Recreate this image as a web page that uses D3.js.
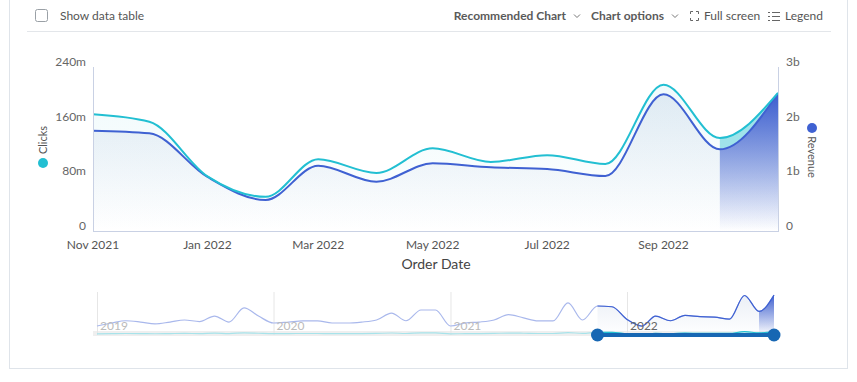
<!DOCTYPE html>
<html><head><meta charset="utf-8">
<script src="https://cdn.jsdelivr.net/npm/d3@7"></script>
<style>
body{margin:0;background:#fff;font-family:Lato,"Open Sans",sans-serif;}
svg{display:block}
</style></head><body>
<svg id="c" width="857" height="382"></svg>
<script>
// ---- data ----
const months = ["2021-11","2021-12","2022-01","2022-02","2022-03","2022-04","2022-05","2022-06","2022-07","2022-08","2022-09","2022-10","2022-11"];
const clicks = [171, 160, 80, 50, 105, 85, 121, 101, 111, 98, 214, 136, 202];            // millions
const revenue = [1.835, 1.787, 0.988, 0.567, 1.194, 0.902, 1.238, 1.165, 1.134, 1.006, 2.5, 1.494, 2.519]; // billions
const historyStart = "2019-01";
const historyRevenue = [0.57,0.76,0.9,0.82,0.70,0.82,0.95,0.85,1.2,0.82,1.71,1.2,
                        0.76,0.82,0.89,0.89,0.76,0.76,0.82,0.95,1.39,0.9,1.58,1.58,
                        0.57,0.76,0.82,0.95,1.29,1.08,0.89,0.89,2.03,0.95];
const historyClicks = [70,85,95,90,80,90,100,92,115,90,140,110,
                       85,90,95,95,85,85,90,100,125,95,130,130,
                       70,85,90,100,120,110,95,95,150,100];
const leftTicks = [0, 80, 160, 240];
const leftTickLabels = ["0", "80m", "160m", "240m"];
const rightTicks = [0, 1, 2, 3];
const rightTickLabels = ["0", "1b", "2b", "3b"];
const xTickMonths = ["2021-11","2022-01","2022-03","2022-05","2022-07","2022-09"];
const yearLabels = ["2019","2020","2021","2022"];

const parse = d3.timeParse("%Y-%m");
const dates = months.map(parse);
const svg = d3.select("#c");
const CYAN = "#22bfd2", BLUE = "#3f61d2";
const defs = svg.append("defs");

// ---- panel & header ----
svg.append("rect").attr("x", 9.5).attr("y", -2).attr("width", 838).attr("height", 370.5)
  .attr("fill", "none").attr("stroke", "#dfe4ea");
svg.append("line").attr("x1", 27).attr("x2", 831).attr("y1", 31.5).attr("y2", 31.5).attr("stroke", "#e3e6ea");
svg.append("rect").attr("x", 35.5).attr("y", 9.5).attr("width", 12).attr("height", 12).attr("rx", 2)
  .attr("fill", "#fff").attr("stroke", "#9aa0a6");
const hdr = svg.append("g").attr("font-size", 12).attr("fill", "#555");
hdr.append("text").attr("x", 60).attr("y", 20).text("Show data table");
hdr.append("text").attr("x", 566).attr("y", 20).attr("text-anchor", "end").attr("font-weight", 700).attr("fill", "#5a5a5a").text("Recommended Chart");
hdr.append("text").attr("x", 591).attr("y", 20).attr("font-weight", 700).attr("fill", "#5a5a5a").text("Chart options");
hdr.append("text").attr("x", 704).attr("y", 20).text("Full screen");
hdr.append("text").attr("x", 785).attr("y", 20).text("Legend");
function chevron(x, y) {
  svg.append("path").attr("d", `M${x-3},${y-1.5}L${x},${y+1.5}L${x+3},${y-1.5}`)
    .attr("fill", "none").attr("stroke", "#777").attr("stroke-width", 1);
}
chevron(577, 16); chevron(675, 16);
svg.append("path").attr("d", "M690.5,14V11.5H693 M696,11.5H698.5V14 M698.5,18V20.5H696 M693,20.5H690.5V18")
  .attr("fill", "none").attr("stroke", "#666").attr("stroke-width", 1);
const lg = svg.append("g").attr("stroke", "#666").attr("stroke-width", 1);
[12, 16, 20].forEach(y => {
  lg.append("line").attr("x1", 768).attr("x2", 770).attr("y1", y + 0.5).attr("y2", y + 0.5);
  lg.append("line").attr("x1", 772).attr("x2", 780).attr("y1", y + 0.5).attr("y2", y + 0.5);
});

// ---- main chart ----
const L = 93, R = 778, T = 67, B = 231;
const x = d3.scaleTime().domain([dates[0], dates[dates.length - 1]]).range([L, R]);
const yL = d3.scaleLinear().domain([0, 240]).range([B, T]);
const yR = d3.scaleLinear().domain([0, 3]).range([B, T]);

const gBlue = defs.append("linearGradient").attr("id", "gBlue").attr("gradientUnits", "userSpaceOnUse")
  .attr("x1", 0).attr("x2", 0).attr("y1", T + 20).attr("y2", B);
gBlue.append("stop").attr("offset", 0).attr("stop-color", "#7d97c4").attr("stop-opacity", 0.17);
gBlue.append("stop").attr("offset", 1).attr("stop-color", "#7d97c4").attr("stop-opacity", 0.0);
const gCyan = defs.append("linearGradient").attr("id", "gCyan").attr("gradientUnits", "userSpaceOnUse")
  .attr("x1", 0).attr("x2", 0).attr("y1", T + 20).attr("y2", B);
gCyan.append("stop").attr("offset", 0).attr("stop-color", "#6fd3e2").attr("stop-opacity", 0.1);
gCyan.append("stop").attr("offset", 1).attr("stop-color", "#6fd3e2").attr("stop-opacity", 0.0);
const gDark = defs.append("linearGradient").attr("id", "gDark").attr("gradientUnits", "userSpaceOnUse")
  .attr("x1", 0).attr("x2", 0).attr("y1", T + 25).attr("y2", B);
gDark.append("stop").attr("offset", 0).attr("stop-color", "#3a5ccf").attr("stop-opacity", 1);
gDark.append("stop").attr("offset", 1).attr("stop-color", "#3a5ccf").attr("stop-opacity", 0.0);

const curve = d3.curveMonotoneX;
const idx = d3.range(months.length);
svg.append("path").datum(idx).attr("fill", "url(#gCyan)")
  .attr("d", d3.area().curve(curve).x(i => x(dates[i])).y0(B).y1(i => yL(clicks[i])));
svg.append("path").datum(idx).attr("fill", "url(#gBlue)")
  .attr("d", d3.area().curve(curve).x(i => x(dates[i])).y0(B).y1(i => yR(revenue[i])));

// last (incomplete) period highlight
const lastStart = x(dates[dates.length - 2]);
defs.append("clipPath").attr("id", "clipLast").append("rect")
  .attr("x", lastStart).attr("y", 0).attr("width", R - lastStart).attr("height", B);
const lastG = svg.append("g").attr("clip-path", "url(#clipLast)");
lastG.append("path").datum(idx).attr("fill", "url(#gDark)")
  .attr("d", d3.area().curve(curve).x(i => x(dates[i])).y0(B).y1(i => yR(revenue[i])));
lastG.append("path").datum(idx).attr("fill", "#9fe3ea")
  .attr("d", d3.area().curve(curve).x(i => x(dates[i])).y0(i => yR(revenue[i])).y1(i => yL(clicks[i])));

svg.append("path").datum(idx).attr("fill", "none").attr("stroke", BLUE).attr("stroke-width", 2)
  .attr("d", d3.line().curve(curve).x(i => x(dates[i])).y(i => yR(revenue[i])));
svg.append("path").datum(idx).attr("fill", "none").attr("stroke", CYAN).attr("stroke-width", 2)
  .attr("d", d3.line().curve(curve).x(i => x(dates[i])).y(i => yL(clicks[i])));

// axes lines
const axC = "#c9d1e4";
svg.append("line").attr("x1", L + 0.5).attr("x2", L + 0.5).attr("y1", T).attr("y2", B).attr("stroke", axC);
svg.append("line").attr("x1", R + 0.5).attr("x2", R + 0.5).attr("y1", T).attr("y2", B).attr("stroke", axC);
svg.append("line").attr("x1", L).attr("x2", R + 1).attr("y1", B + 0.5).attr("y2", B + 0.5).attr("stroke", axC);

const tl = svg.append("g").attr("font-size", 12).attr("fill", "#666");
leftTicks.forEach((v, i) => tl.append("text").attr("x", 86).attr("y", yL(v) - 1)
  .attr("text-anchor", "end").text(leftTickLabels[i]));
rightTicks.forEach((v, i) => tl.append("text").attr("x", 786).attr("y", yR(v) - 1)
  .text(rightTickLabels[i]));
const fmt = d3.timeFormat("%b %Y");
xTickMonths.map(parse).forEach(d => tl.append("text").attr("x", x(d)).attr("y", 249)
  .attr("text-anchor", "middle").attr("fill", "#555").text(fmt(d)));
svg.append("text").attr("x", 436).attr("y", 269).attr("text-anchor", "middle")
  .attr("font-size", 14).attr("fill", "#444").text("Order Date");

// legends on sides
svg.append("circle").attr("cx", 43).attr("cy", 163).attr("r", 5).attr("fill", CYAN);
svg.append("text").attr("transform", "translate(47,140) rotate(-90)").attr("text-anchor", "middle")
  .attr("font-size", 11).attr("fill", "#555").text("Clicks");
svg.append("circle").attr("cx", 812).attr("cy", 128).attr("r", 5).attr("fill", BLUE);
svg.append("text").attr("transform", "translate(808,157) rotate(90)").attr("text-anchor", "middle")
  .attr("font-size", 11).attr("fill", "#555").text("Revenue");

// ---- navigator ----
const hStart = parse(historyStart);
const navDates = historyRevenue.map((_, i) => d3.timeMonth.offset(hStart, i)).concat(dates);
const navRev = historyRevenue.concat(revenue);
const navClk = historyClicks.concat(clicks).map(v => v / 1000);
const nx = d3.scaleTime().domain([hStart, dates[dates.length - 1]]).range([97, 774]);
const ny = d3.scaleLinear().domain([0, 2.6]).range([335, 293.9]);
const nIdx = d3.range(navDates.length);

svg.append("rect").attr("x", 93).attr("y", 331).attr("width", 685).attr("height", 5).attr("fill", "#efefef");
yearLabels.forEach(yr => {
  const px = nx(parse(yr + "-01"));
  svg.append("line").attr("x1", px + 0.5).attr("x2", px + 0.5).attr("y1", 292).attr("y2", 335).attr("stroke", "#e6e6e6");
});
const nLineR = d3.line().curve(curve).x(i => nx(navDates[i])).y(i => ny(navRev[i]));
const nLineC = d3.line().curve(curve).x(i => nx(navDates[i])).y(i => ny(navClk[i]));
svg.append("path").datum(nIdx).attr("fill", "none").attr("stroke", "#a9b8ec").attr("stroke-width", 1.2).attr("d", nLineR);
svg.append("path").datum(nIdx).attr("fill", "none").attr("stroke", "#a7e3ea").attr("stroke-width", 1.2).attr("d", nLineC);

const selX0 = nx(dates[0]);
defs.append("clipPath").attr("id", "clipSel").append("rect")
  .attr("x", selX0).attr("y", 280).attr("width", 774 - selX0 + 2).attr("height", 60);
const gNav = defs.append("linearGradient").attr("id", "gNav").attr("gradientUnits", "userSpaceOnUse")
  .attr("x1", 0).attr("x2", 0).attr("y1", 296).attr("y2", 335);
gNav.append("stop").attr("offset", 0).attr("stop-color", "#7d97c4").attr("stop-opacity", 0.15);
gNav.append("stop").attr("offset", 1).attr("stop-color", "#7d97c4").attr("stop-opacity", 0);
const gNavD = defs.append("linearGradient").attr("id", "gNavD").attr("gradientUnits", "userSpaceOnUse")
  .attr("x1", 0).attr("x2", 0).attr("y1", 297).attr("y2", 335);
gNavD.append("stop").attr("offset", 0).attr("stop-color", "#3a5ccf").attr("stop-opacity", 0.9);
gNavD.append("stop").attr("offset", 1).attr("stop-color", "#3a5ccf").attr("stop-opacity", 0);
const sel = svg.append("g").attr("clip-path", "url(#clipSel)");
sel.append("path").datum(nIdx).attr("fill", "url(#gNav)")
  .attr("d", d3.area().curve(curve).x(i => nx(navDates[i])).y0(335).y1(i => ny(navRev[i])));
const nLast = nx(dates[dates.length - 2]);
defs.append("clipPath").attr("id", "clipNavLast").append("rect")
  .attr("x", nLast).attr("y", 280).attr("width", 774 - nLast).attr("height", 60);
svg.append("path").datum(nIdx).attr("clip-path", "url(#clipNavLast)").attr("fill", "url(#gNavD)")
  .attr("d", d3.area().curve(curve).x(i => nx(navDates[i])).y0(335).y1(i => ny(navRev[i])));
sel.append("path").datum(nIdx).attr("fill", "none").attr("stroke", BLUE).attr("stroke-width", 1.2).attr("d", nLineR);
sel.append("path").datum(nIdx).attr("fill", "none").attr("stroke", CYAN).attr("stroke-width", 1.2).attr("d", nLineC);

yearLabels.forEach(yr => {
  const d = parse(yr + "-01");
  svg.append("text").attr("x", nx(d) + 3).attr("y", 330).attr("font-size", 12)
    .attr("fill", d >= dates[0] ? "#666" : "#bbb").text(yr);
});

svg.append("line").attr("x1", selX0).attr("x2", 774).attr("y1", 335).attr("y2", 335)
  .attr("stroke", "#1767b3").attr("stroke-width", 4);
[selX0, 774].forEach(cx => svg.append("circle").attr("cx", cx).attr("cy", 335).attr("r", 6.5).attr("fill", "#1767b3"));
</script>
</body></html>
